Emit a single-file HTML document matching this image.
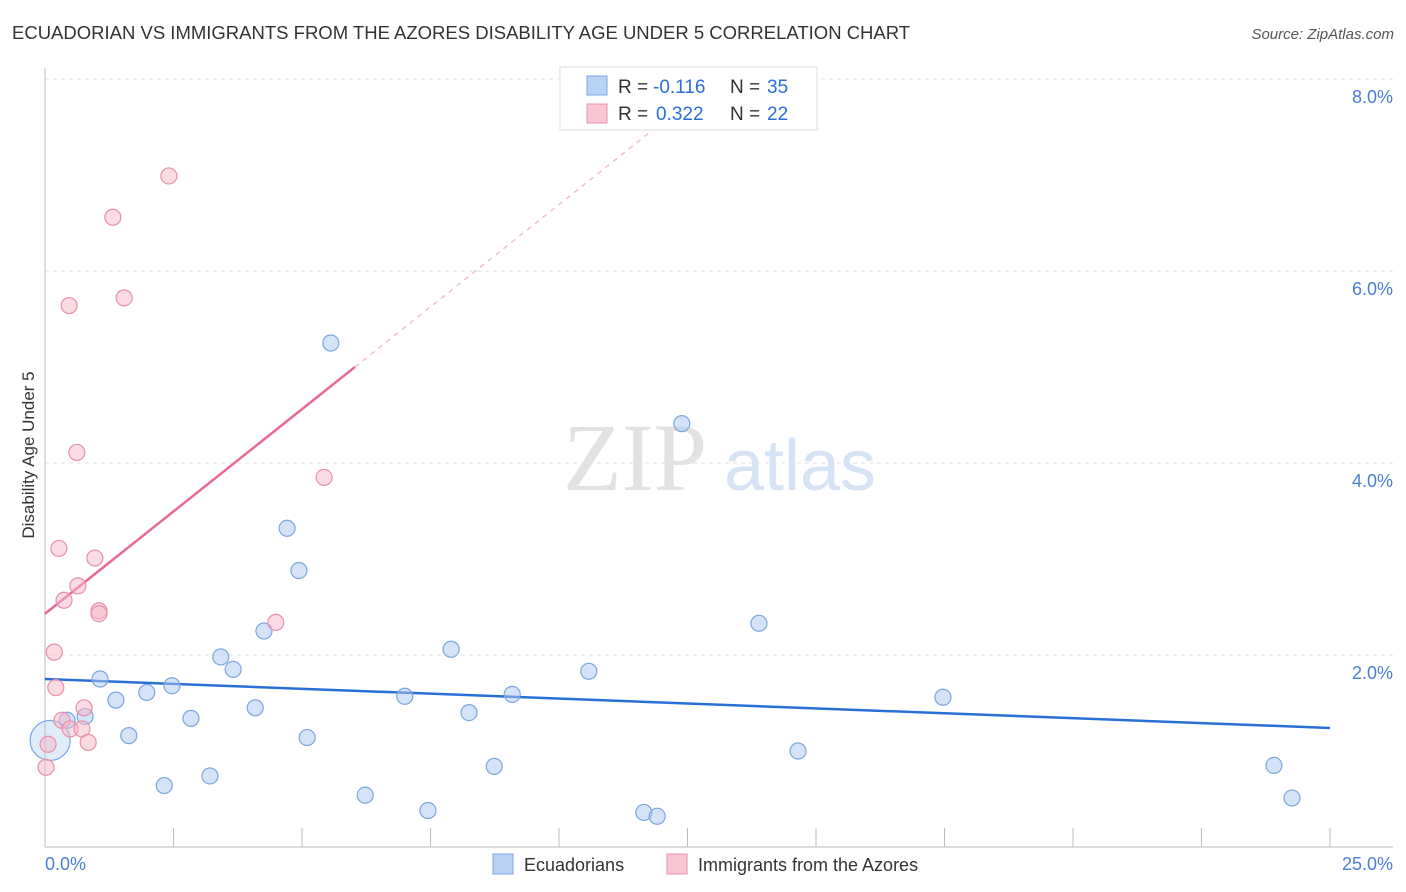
<!DOCTYPE html>
<html><head><meta charset="utf-8"><style>
body{margin:0;background:#fff;font-family:"Liberation Sans",sans-serif;}
svg{display:block}
</style></head><body>
<svg id="chart" width="1406" height="892" xmlns="http://www.w3.org/2000/svg">
<text x="12" y="39" font-size="18.5" fill="#333">ECUADORIAN VS IMMIGRANTS FROM THE AZORES DISABILITY AGE UNDER 5 CORRELATION CHART</text>
<text x="1394" y="39" font-size="15" fill="#555" text-anchor="end" font-style="italic">Source: ZipAtlas.com</text>
<g id="grid"></g>
<g>
<text x="635" y="490" font-size="96" fill="#e2e2e2" font-family="Liberation Serif,serif" text-anchor="middle">ZIP</text>
<text x="800" y="490" font-size="72" fill="#d6e3f5" text-anchor="middle">atlas</text>
</g>
<text transform="translate(34,455) rotate(-90)" font-size="17" fill="#333" text-anchor="middle">Disability Age Under 5</text>
<g id="lines"></g>
<g id="points"></g>
<g>
<rect x="560" y="67" width="257" height="63" fill="#fff" stroke="#ddd"/>
<rect x="587" y="76" width="20" height="19" fill="#b9d3f3" stroke="#7aa6e0"/>
<rect x="587" y="104" width="20" height="19" fill="#f8c6d4" stroke="#e890a8"/>
<text x="618" y="93" font-size="19" fill="#333">R = </text>
<text x="653" y="93" font-size="19" fill="#2a6fd6">-0.116</text>
<text x="730" y="93" font-size="19" fill="#333">N = </text>
<text x="767" y="93" font-size="19" fill="#2a6fd6">35</text>
<text x="618" y="120" font-size="19" fill="#333">R = </text>
<text x="656" y="120" font-size="19" fill="#2a6fd6">0.322</text>
<text x="730" y="120" font-size="19" fill="#333">N = </text>
<text x="767" y="120" font-size="19" fill="#2a6fd6">22</text>
</g>
<g>
<rect x="493" y="854" width="20" height="20" fill="#b9d3f3" stroke="#7aa6e0"/>
<text x="524" y="871" font-size="18" fill="#333">Ecuadorians</text>
<rect x="667" y="854" width="20" height="20" fill="#f8c6d4" stroke="#e890a8"/>
<text x="698" y="871" font-size="18" fill="#333">Immigrants from the Azores</text>
</g>
</svg>
<script>
const yTicks=[2,4,6,8];
const yTickLabels=["2.0%","4.0%","6.0%","8.0%"];
const xTickVals=[0,2.5,5,7.5,10,12.5,15,17.5,20,22.5,25];
const xEndLabels=["0.0%","25.0%"];
const blueX=[5.56,12.39,4.71,4.94,4.26,13.89,7.90,3.42,3.66,10.58,1.07,2.47,1.98,1.38,7.00,9.09,17.47,4.09,2.84,8.25,0.78,0.43,1.63,5.10,14.65,8.74,23.91,3.21,2.32,6.23,7.45,11.65,11.91,24.26,0.10];
const blueY=[5.25,4.41,3.32,2.88,2.25,2.33,2.06,1.98,1.85,1.83,1.75,1.68,1.61,1.53,1.57,1.59,1.56,1.45,1.34,1.40,1.36,1.32,1.16,1.14,1.00,0.84,0.85,0.74,0.64,0.54,0.38,0.36,0.32,0.51,1.11];
const pinkX=[2.41,1.32,1.54,0.47,0.62,5.43,0.27,0.97,0.64,0.37,1.05,1.05,4.49,0.18,0.21,0.76,0.33,0.49,0.72,0.84,0.06,0.02];
const pinkY=[6.99,6.56,5.72,5.64,4.11,3.85,3.11,3.01,2.72,2.57,2.46,2.43,2.34,2.03,1.66,1.45,1.32,1.23,1.23,1.09,1.07,0.83];
const blueFit=[1.75,1.24];
const pinkFit=[2.43,5.0,6.03];
const NS="http://www.w3.org/2000/svg";
const sx=v=>45+v*51.4, sy=v=>847-v*96;
function mk(t,a,p){const e=document.createElementNS(NS,t);for(const k in a)e.setAttribute(k,a[k]);p.appendChild(e);return e;}
const g=document.getElementById('grid');
yTicks.forEach((v,i)=>{
 const l=mk('line',{x1:45,x2:1393,y1:sy(v),y2:sy(v),stroke:'#e2e2e2','stroke-dasharray':'4,4'},g);
 
 
 const t=mk('text',{x:1393,y:sy(v)+24,'font-size':18,fill:'#4a7fd4','text-anchor':'end'},g);
 t.textContent=yTickLabels[i];
 
 
});
const ax=mk('line',{x1:45,x2:1393,y1:847,y2:847,stroke:'#bbb'},g);


const ay=mk('line',{x1:45,x2:45,y1:68,y2:847,stroke:'#bbb'},g);


xTickVals.forEach(v=>{
 const l=mk('line',{x1:sx(v),x2:sx(v),y1:828,y2:847,stroke:'#bbb'},g);
 
 
});
const xl0=mk('text',{x:45,y:870,'font-size':18,fill:'#4a7fd4'},g);xl0.textContent=xEndLabels[0];


const xl1=mk('text',{x:1393,y:870,'font-size':18,fill:'#4a7fd4','text-anchor':'end'},g);xl1.textContent=xEndLabels[1];


const L=document.getElementById('lines');
const bl=mk('line',{x1:sx(0),y1:sy(blueFit[0]),x2:sx(25),y2:sy(blueFit[1]),stroke:'#2a6fd6','stroke-width':2.5},L);


const slope=(pinkFit[1]-pinkFit[0])/pinkFit[2];
const pl=mk('line',{x1:sx(0),y1:sy(pinkFit[0]),x2:sx(pinkFit[2]),y2:sy(pinkFit[1]),stroke:'#e8689a','stroke-width':2.5},L);


const xe=12;
const pd=mk('line',{x1:sx(pinkFit[2]),y1:sy(pinkFit[1]),x2:sx(xe),y2:sy(pinkFit[0]+slope*xe),stroke:'#f0b0c4','stroke-width':1.2,'stroke-dasharray':'5,5'},L);


const P=document.getElementById('points');
blueX.forEach((x,i)=>{
 const big=i===blueX.length-1;
 const c=mk('circle',{cx:sx(x),cy:sy(blueY[i]),r:big?20:8,fill:big?'rgba(169,200,240,0.35)':'rgba(169,200,240,0.5)',stroke:'#7aa6e0','stroke-width':1.2},P);
 
 
});
pinkX.forEach((x,i)=>{
 const c=mk('circle',{cx:sx(x),cy:sy(pinkY[i]),r:8,fill:'rgba(245,184,200,0.5)',stroke:'#e890a8','stroke-width':1.2},P);
 
 
});
</script>
</body></html>
